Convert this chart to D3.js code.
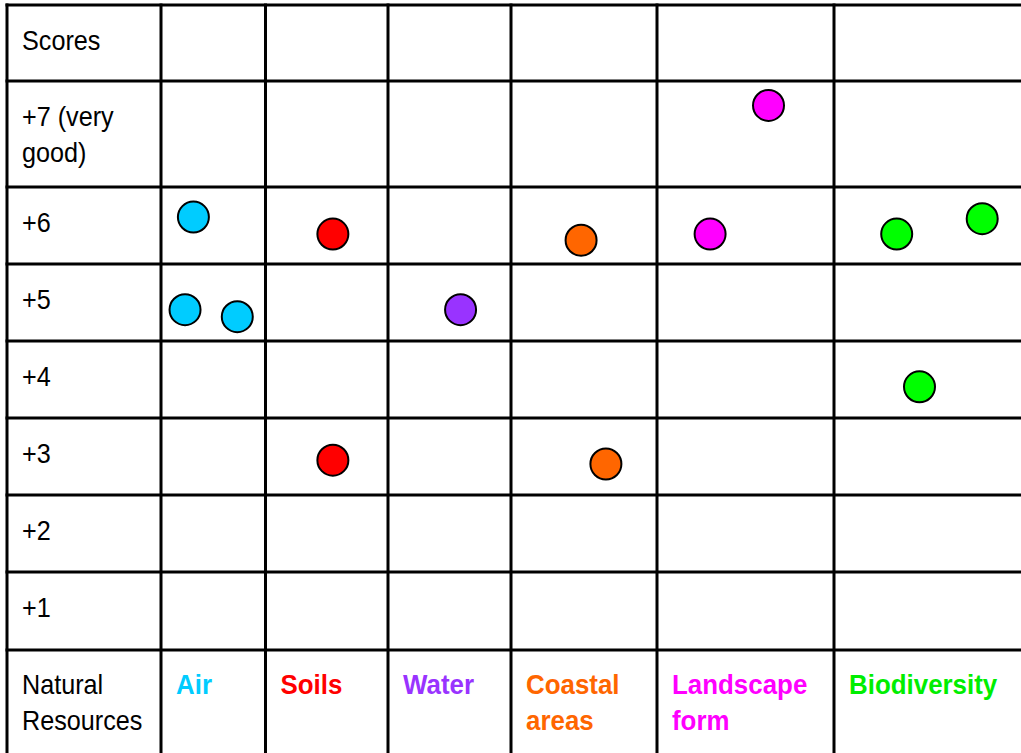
<!DOCTYPE html>
<html>
<head>
<meta charset="utf-8">
<title>Natural resources scores</title>
<script src="https://d3js.org/d3.v7.min.js"></script>
<style>
  body { margin: 0; background: #fff; }
  .grid { stroke: #000; stroke-width: 3px; }
  .lbl { font-family: "Liberation Sans", Arial, sans-serif; font-size: 28px; fill: #000; }
  .res { font-weight: bold; }
  .dot { stroke: #000; stroke-width: 2px; }
</style>
</head>
<body>
<script>
// resources (columns) and their colours
var resources = ["Air", "Soils", "Water", "Coastal areas", "Landscape form", "Biodiversity"];
var resColors = ["#00ccff", "#ff0000", "#9933ff", "#ff6600", "#ff00ff", "#00ee00"];
var dotColors = ["#00ccff", "#ff0000", "#9933ff", "#ff6600", "#ff00ff", "#00ff00"];

// score rows, top to bottom
var scoreLabels = ["+7 (very good)", "+6", "+5", "+4", "+3", "+2", "+1"];

// points: resource index + position along columns, and score
var ptResource = [0, 0, 0, 1, 1, 2, 3, 3, 4, 4, 5, 5, 5];
var ptX        = [0.31, 0.23, 0.73, 1.55, 1.55, 2.59, 3.48, 3.65, 4.63, 4.30, 5.33, 5.78, 5.45];
var ptScore    = [6.11, 4.91, 4.82, 5.89, 2.96, 4.91, 5.81, 2.91, 7.27, 5.89, 5.89, 6.09, 3.91];

var width = 1021, height = 753;

// layout of the table
var colEdges = [7, 161, 265.5, 388, 511, 657, 834, 1024];
var rowEdges = [5, 81, 187, 264, 341, 418, 495, 572, 650, 760];

var svg = d3.select("body").append("svg")
    .attr("width", width)
    .attr("height", height);

// column index -> x, score -> y (the +7 row is taller)
var x = d3.scaleLinear()
    .domain(d3.range(0, resources.length + 1))
    .range(colEdges.slice(1));
var y = d3.scaleLinear()
    .domain([0.5, 6.5, 7.5])
    .range([rowEdges[8], rowEdges[2], rowEdges[1]]);

// grid lines
svg.selectAll("line.h")
    .data(rowEdges.slice(0, -1)).enter()
    .append("line")
    .attr("class", "grid")
    .attr("x1", colEdges[0] - 1.5).attr("x2", width)
    .attr("y1", function (d) { return d; }).attr("y2", function (d) { return d; });

svg.selectAll("line.v")
    .data(colEdges.slice(0, -1)).enter()
    .append("line")
    .attr("class", "grid")
    .attr("x1", function (d) { return d; }).attr("x2", function (d) { return d; })
    .attr("y1", rowEdges[0] - 1.5).attr("y2", height);

// condensed look: squeeze the text horizontally
var lineH = 36;
function addText(txt, x0, y0, cls, color, squeeze) {
    var t = svg.append("text")
        .attr("class", cls)
        .attr("transform", "translate(" + x0 + "," + y0 + ") scale(" + squeeze + ",1)");
    if (color) t.style("fill", color);
    txt.forEach(function (s, i) {
        t.append("tspan").attr("x", 0).attr("dy", i === 0 ? 0 : lineH).text(s);
    });
}

var padX = 15, padY = 45;
addText(["Scores"], colEdges[0] + padX, rowEdges[0] + padY, "lbl", null, 0.9);
scoreLabels.forEach(function (s, i) {
    var parts = s === "+7 (very good)" ? ["+7 (very", "good)"] : [s];
    addText(parts, colEdges[0] + padX, rowEdges[i + 1] + padY, "lbl", null, 0.9);
});
addText(["Natural", "Resources"], colEdges[0] + padX, rowEdges[8] + 44, "lbl", null, 0.9);

resources.forEach(function (r, i) {
    var parts = r === "Coastal areas" ? ["Coastal", "areas"]
              : r === "Landscape form" ? ["Landscape", "form"] : [r];
    addText(parts, colEdges[i + 1] + padX, rowEdges[8] + 44, "lbl res", resColors[i], 0.925);
});

// dots
svg.selectAll("circle")
    .data(d3.range(ptX.length)).enter()
    .append("circle")
    .attr("class", "dot")
    .attr("cx", function (i) { return x(ptX[i]); })
    .attr("cy", function (i) { return y(ptScore[i]); })
    .attr("r", 15.5)
    .attr("fill", function (i) { return dotColors[ptResource[i]]; });
</script>
</body>
</html>
